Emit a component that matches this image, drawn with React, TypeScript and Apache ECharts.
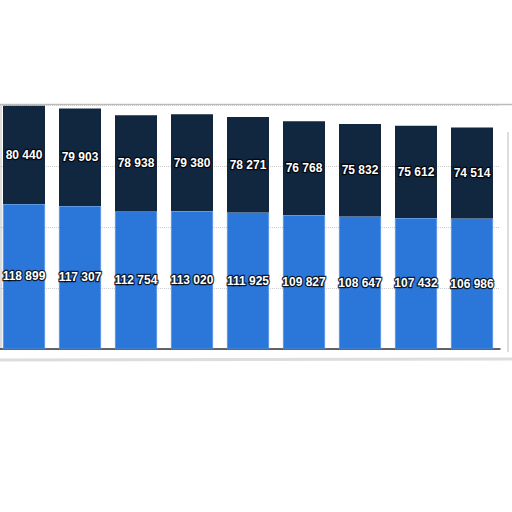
import React, { useEffect, useRef } from "react";
import * as echarts from "echarts";

const categories = ["1", "2", "3", "4", "5", "6", "7", "8", "9"];
const lowerValues = [118899, 117307, 112754, 113020, 111925, 109827, 108647, 107432, 106986];
const upperValues = [80440, 79903, 78938, 79380, 78271, 76768, 75832, 75612, 74514];

const fmt = (v: number) => {
  const s = String(Math.round(v));
  return s.replace(/\B(?=(\d{3})+(?!\d))/g, " ");
};

const labelStyle = {
  show: true,
  position: "inside" as const,
  color: "#ffffff",
  fontFamily: "Liberation Sans, Arial, sans-serif",
  fontWeight: "bold" as const,
  fontSize: 12,
  textBorderColor: "rgba(0,0,0,0.8)",
  textBorderWidth: 2.5,
  formatter: (p: any) => fmt(p.value),
};

const OFF = 4;

export default function App() {
  const ref = useRef<HTMLDivElement>(null);
  useEffect(() => {
    if (!ref.current) return;
    const chart = echarts.init(ref.current, null, { renderer: "svg" });
    chart.setOption({
      animation: false,
      backgroundColor: "#ffffff",
      grid: { left: 0, right: 12, top: 105, bottom: 163, containLabel: false },
      xAxis: {
        type: "category",
        data: categories,
        axisLine: { show: true, lineStyle: { color: "#333333", width: 1.5 } },
        axisTick: { show: false },
        axisLabel: { show: false },
      },
      yAxis: {
        type: "value",
        min: 0,
        max: 200000,
        interval: 50000,
        axisLabel: { show: false },
        axisLine: { show: false },
        axisTick: { show: false },
        splitLine: { show: true, lineStyle: { color: "#cccccc", type: "dotted", width: 1 } },
      },
      series: [
        {
          type: "bar",
          stack: "total",
          data: lowerValues,
          barCategoryGap: "25%",
          itemStyle: { color: "#2b76d9", borderColor: "#5f9be6", borderWidth: 0.5 },
          label: labelStyle,
        },
        {
          type: "bar",
          stack: "total",
          data: upperValues,
          barCategoryGap: "25%",
          itemStyle: { color: "#11263f" },
          label: labelStyle,
        },
      ],
      graphic: [
        { type: "line", shape: { x1: 0, y1: 104.5, x2: 516, y2: 104.5 }, style: { stroke: "#bbbbbb", lineWidth: 1.5 } },
        { type: "line", shape: { x1: 1 + OFF, y1: 105, x2: 1 + OFF, y2: 349 }, style: { stroke: "#dddddd", lineWidth: 2 } },
        { type: "line", shape: { x1: 508 + OFF, y1: 132, x2: 508 + OFF, y2: 352 }, style: { stroke: "#bbbbbb", lineWidth: 1 } },
        { type: "line", shape: { x1: 0, y1: 360, x2: 516, y2: 359 }, style: { stroke: "#d4d4d4", lineWidth: 3, opacity: 0.8 } },
      ],
    });
    return () => chart.dispose();
  }, []);
  return (
    <div
      ref={ref}
      style={{ position: "fixed", left: -OFF, top: 0, width: 512 + OFF, height: 512, background: "#fff" }}
    />
  );
}
